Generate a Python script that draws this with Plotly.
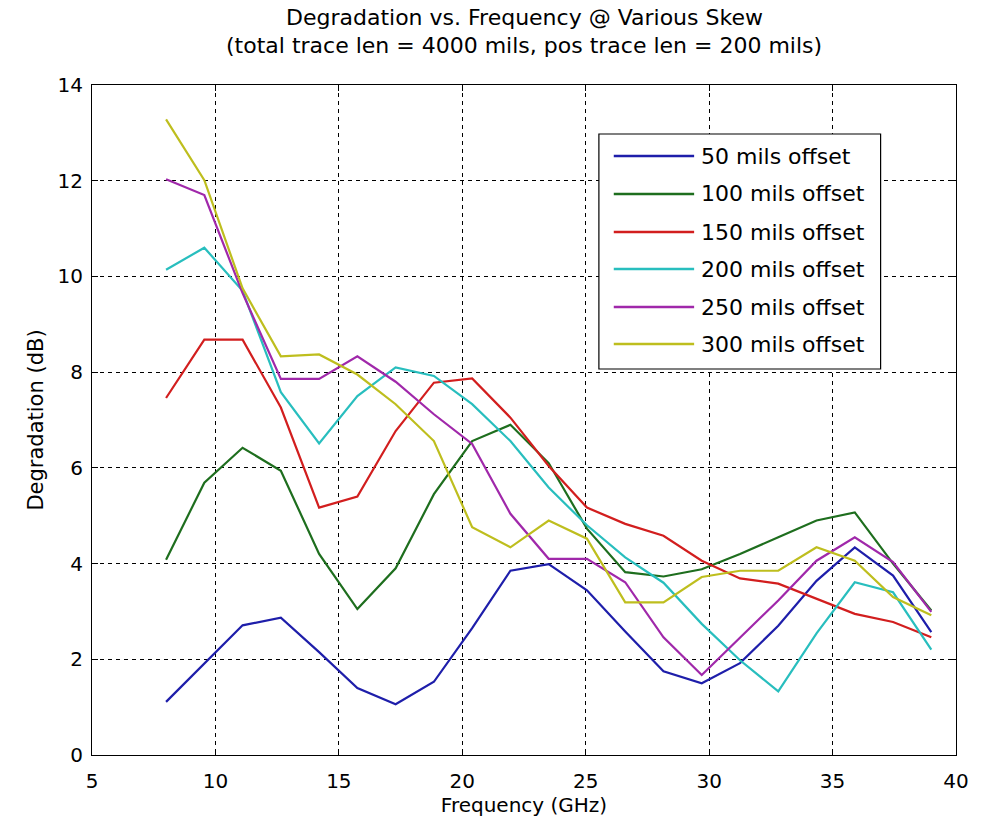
import plotly.graph_objects as go

freq = [8.0, 9.55, 11.1, 12.65, 14.2, 15.75, 17.3, 18.85, 20.4, 21.95, 23.5,
        25.05, 26.6, 28.15, 29.7, 31.25, 32.8, 34.35, 35.9, 37.45, 39.0]

off_50 = [1.11, 1.92, 2.71, 2.87, 2.15, 1.40, 1.06, 1.53, 2.65, 3.85, 3.99,
          3.44, 2.58, 1.75, 1.50, 1.92, 2.70, 3.64, 4.34, 3.75, 2.57]
off_100 = [4.08, 5.69, 6.42, 5.94, 4.20, 3.05, 3.90, 5.45, 6.56, 6.90, 6.10,
           4.73, 3.82, 3.73, 3.88, 4.20, 4.55, 4.90, 5.07, 4.00, 3.02]
off_150 = [7.46, 8.68, 8.68, 7.26, 5.17, 5.40, 6.77, 7.78, 7.87, 7.05, 6.04,
           5.17, 4.83, 4.58, 4.06, 3.69, 3.58, 3.27, 2.95, 2.78, 2.46]
off_200 = [10.14, 10.60, 9.70, 7.58, 6.51, 7.50, 8.10, 7.92, 7.33, 6.56, 5.59,
           4.80, 4.13, 3.60, 2.74, 1.98, 1.33, 2.54, 3.61, 3.40, 2.20]
off_250 = [12.03, 11.70, 9.65, 7.86, 7.86, 8.33, 7.80, 7.12, 6.50, 5.04, 4.10,
           4.10, 3.61, 2.46, 1.67, 2.46, 3.23, 4.06, 4.55, 4.03, 2.99]
off_300 = [13.28, 12.01, 9.75, 8.33, 8.37, 7.95, 7.33, 6.56, 4.76, 4.34, 4.90,
           4.52, 3.19, 3.19, 3.72, 3.85, 3.85, 4.34, 4.06, 3.30, 2.92]

names = ["50 mils offset", "100 mils offset", "150 mils offset",
         "200 mils offset", "250 mils offset", "300 mils offset"]
series = [off_50, off_100, off_150, off_200, off_250, off_300]
colors = ["#1e1eaa", "#1e6e1e", "#d21e1e", "#28bebe", "#a028aa", "#bebe1e"]

x_ticks = [5, 10, 15, 20, 25, 30, 35, 40]
y_ticks = [0, 2, 4, 6, 8, 10, 12, 14]

title_lines = ["Degradation vs. Frequency @ Various Skew",
               "(total trace len = 4000 mils, pos trace len = 200 mils)"]

FONT = "DejaVu Sans, Liberation Sans, Arial"

fig = go.Figure()
for name, vals, col in zip(names, series, colors):
    fig.add_trace(go.Scatter(x=freq, y=vals, mode="lines", name=name,
                             line=dict(color=col, width=2.2), showlegend=False))

W, H = 871, 670
def px(xp):
    return (xp - 92) / W
def py(yp):
    return (755 - yp) / H

shapes = [dict(type="rect", xref="paper", yref="paper",
               x0=px(603), x1=px(887), y0=py(369), y1=py(134),
               line=dict(color="black", width=1.2), fillcolor="white", layer="above")]
annotations = []
entry_y = [156, 194, 232, 269, 307, 344]
for name, col, yy in zip(names, colors, entry_y):
    shapes.append(dict(type="line", xref="paper", yref="paper",
                       x0=px(618), x1=px(699), y0=py(yy), y1=py(yy),
                       line=dict(color=col, width=2.5), layer="above"))
    annotations.append(dict(xref="paper", yref="paper", x=px(704), y=py(yy),
                            text=name, showarrow=False, xanchor="left", yanchor="middle",
                            font=dict(family=FONT, size=22, color="black")))

for line, yy in zip(title_lines, [17, 45]):
    annotations.append(dict(xref="paper", yref="paper", x=px(528), y=py(yy),
                            text=line, showarrow=False, xanchor="center", yanchor="middle",
                            font=dict(family=FONT, size=22, color="black")))

fig.update_layout(
    width=981, height=831,
    margin=dict(l=92, r=18, t=85, b=76),
    paper_bgcolor="white", plot_bgcolor="white",
    shapes=shapes, annotations=annotations,
)
axis_common = dict(showline=True, linecolor="black", linewidth=1.2, mirror="allticks",
                   ticks="inside", ticklen=6, tickcolor="black",
                   showgrid=True, gridcolor="black", gridwidth=1, griddash="4px,4px",
                   zeroline=False, tickfont=dict(family=FONT, size=20, color="black"))
fig.update_xaxes(range=[5, 40], tickvals=x_ticks, ticktext=[str(v) for v in x_ticks],
                 ticklabelstandoff=8,
                 title=dict(text="Frequency (GHz)", font=dict(family=FONT, size=20, color="black"), standoff=4),
                 **axis_common)
fig.update_yaxes(range=[0, 14], tickvals=y_ticks, ticktext=[str(v) for v in y_ticks],
                 ticklabelstandoff=4,
                 title=dict(text="Degradation (dB)", font=dict(family=FONT, size=21, color="black"), standoff=8),
                 **axis_common)

fig.write_html("out.html")
